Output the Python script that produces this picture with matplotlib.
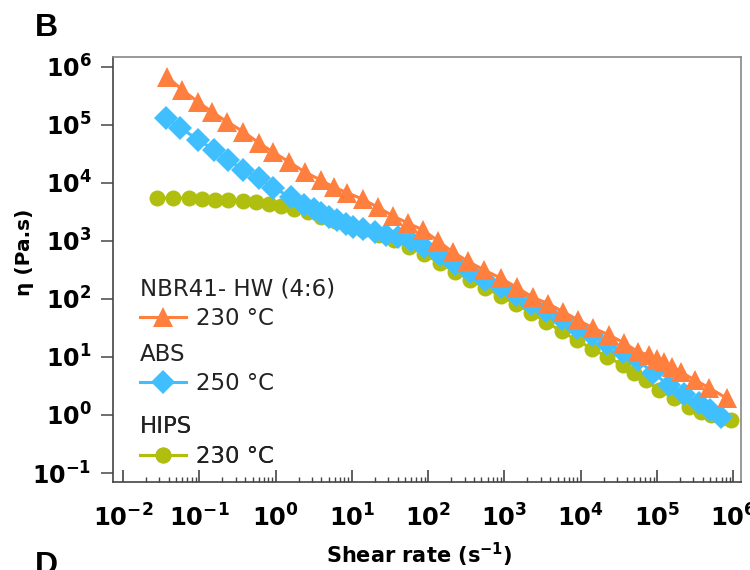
import numpy as np
import matplotlib.pyplot as plt
from matplotlib.ticker import FixedLocator, FuncFormatter, NullLocator

plt.rcParams['font.family'] = 'DejaVu Sans'
plt.rcParams['mathtext.fontset'] = 'dejavusans'

# Viskositaetskurven, Werte als log10
# NBR41-HW (4:6), 230 °C
nbr_lx = [-1.42, -1.22, -1.02, -0.83, -0.63, -0.42, -0.22, -0.03, 0.18, 0.38,
          0.59, 0.76, 0.94, 1.14, 1.34, 1.54, 1.73, 1.93, 2.13, 2.32,
          2.52, 2.73, 2.95, 3.16, 3.37, 3.57, 3.77, 3.96, 4.16, 4.37,
          4.57, 4.75, 4.90, 5.00, 5.09, 5.20, 5.31, 5.50, 5.68, 5.91]
nbr_ly = [5.83, 5.60, 5.40, 5.22, 5.05, 4.88, 4.69, 4.53, 4.36, 4.19,
          4.05, 3.93, 3.83, 3.72, 3.58, 3.43, 3.31, 3.19, 3.00, 2.81,
          2.65, 2.50, 2.36, 2.20, 2.03, 1.92, 1.78, 1.64, 1.50, 1.38,
          1.24, 1.09, 1.03, 0.97, 0.91, 0.83, 0.74, 0.60, 0.47, 0.29]

# ABS, 250 °C
abs_lx = [-1.44, -1.25, -1.01, -0.81, -0.62, -0.42, -0.22, -0.03, 0.20, 0.37,
          0.50, 0.59, 0.70, 0.81, 0.92, 1.02, 1.15, 1.30, 1.45, 1.60,
          1.77, 1.95, 2.15, 2.35, 2.55, 2.75, 2.95, 3.15, 3.35, 3.55,
          3.75, 3.95, 4.15, 4.35, 4.55, 4.75, 4.95, 5.15, 5.35, 5.55,
          5.70, 5.84]
abs_ly = [5.12, 4.95, 4.74, 4.57, 4.40, 4.22, 4.09, 3.91, 3.76, 3.62,
          3.55, 3.48, 3.42, 3.36, 3.30, 3.24, 3.20, 3.15, 3.10, 3.06,
          3.00, 2.90, 2.76, 2.60, 2.46, 2.33, 2.20, 2.06, 1.92, 1.79,
          1.65, 1.50, 1.37, 1.23, 1.09, 0.95, 0.72, 0.52, 0.36, 0.20,
          0.08, -0.03]

# HIPS, 230 °C
hips_lx = [-1.55, -1.35, -1.14, -0.96, -0.79, -0.62, -0.43, -0.26, -0.09, 0.07,
           0.24, 0.42, 0.60, 0.78, 0.95, 1.15, 1.35, 1.55, 1.75, 1.95,
           2.15, 2.35, 2.55, 2.75, 2.95, 3.15, 3.35, 3.55, 3.75, 3.95,
           4.15, 4.35, 4.55, 4.70, 4.85, 5.03, 5.22, 5.42, 5.57, 5.71,
           5.85, 5.97]
hips_ly = [3.74, 3.74, 3.74, 3.72, 3.71, 3.70, 3.68, 3.67, 3.64, 3.60,
           3.55, 3.49, 3.42, 3.35, 3.28, 3.19, 3.10, 3.01, 2.90, 2.77,
           2.62, 2.47, 2.33, 2.19, 2.05, 1.91, 1.76, 1.60, 1.44, 1.29,
           1.14, 1.00, 0.86, 0.72, 0.60, 0.43, 0.29, 0.14, 0.06, 0.00,
           -0.05, -0.09]

c_nbr = '#FF7F3F'
c_abs = '#40BFFF'
c_hips = '#B0BE0F'

fig = plt.figure(figsize=(7.5, 5.7), dpi=100)
ax = fig.add_axes([113/750, 88/570, 628/750, 425/570])

l_hips, = ax.plot(np.power(10.0, hips_lx), np.power(10.0, hips_ly), '-o', color=c_hips,
                  ms=11.5, mew=0, lw=2.2)
l_abs, = ax.plot(np.power(10.0, abs_lx), np.power(10.0, abs_ly), '-D', color=c_abs,
                 ms=12, mew=0, lw=2.2)
l_nbr, = ax.plot(np.power(10.0, nbr_lx), np.power(10.0, nbr_ly), '-^', color=c_nbr,
                 ms=14, mew=0, lw=2.2)

ax.set_xscale('log')
ax.set_yscale('log')
ax.set_xlim(10**-2.13, 10**6.1)
ax.set_ylim(10**-1.155, 10**6.17)

# Achsen / Ticks
ax.xaxis.set_major_locator(FixedLocator([10.0**e for e in range(-2, 7)]))
ax.xaxis.set_minor_locator(FixedLocator([m * 10.0**e for e in range(-2, 6) for m in range(2, 10)]))
ax.yaxis.set_major_locator(FixedLocator([10.0**e for e in range(-1, 7)]))
ax.yaxis.set_minor_locator(NullLocator())
fmt = FuncFormatter(lambda v, p: r'$\mathbf{10^{%d}}$' % round(np.log10(v)))
ax.xaxis.set_major_formatter(fmt)
ax.yaxis.set_major_formatter(fmt)

ax.tick_params(axis='x', which='major', direction='in', length=8.5, width=1.2,
               color='#444444', labelsize=17.5, pad=16)
ax.tick_params(axis='x', which='minor', direction='in', length=3.5, width=1.0,
               color='#444444')
ax.tick_params(axis='y', which='major', direction='out', length=8.5, width=1.2,
               color='#555555', labelsize=17, pad=7)

for s in ['left', 'bottom']:
    ax.spines[s].set_color('#444444')
    ax.spines[s].set_linewidth(1.2)
for s in ['top', 'right']:
    ax.spines[s].set_color('#888888')
    ax.spines[s].set_linewidth(1.2)

ax.set_xlabel(r'Shear rate (s$^{\mathbf{-1}}$)', fontsize=15, fontweight='bold')
ax.xaxis.set_label_coords(0.488, -0.139)
ax.xaxis.label.set_va('top')

fig.text(25/750, 1 - 252/570, 'η (Pa.s)', rotation=90, ha='center', va='center',
         fontsize=14.5, fontweight='bold')

# Panel-Buchstaben
fig.text(35/750, 1 - 13/570, 'B', fontsize=23, fontweight='bold', family='Liberation Sans',
         va='top', ha='left')
fig.text(35/750, 1 - 551/570, 'D', fontsize=23, fontweight='bold', family='Liberation Sans',
         va='top', ha='left')

# Legende: drei Bloecke mit Ueberschrift
leg_items = [(l_nbr, '230 °C', 'NBR41- HW (4:6)', 0.480),
             (l_abs, '250 °C', 'ABS', 0.327),
             (l_hips, '230 °C', 'HIPS', 0.157)]
for h, lab, title, ytop in leg_items:
    leg = ax.legend([h], [lab], title=title, loc='upper left',
                    bbox_to_anchor=(0.043, ytop), bbox_transform=ax.transAxes,
                    frameon=False, borderpad=0, borderaxespad=0,
                    handlelength=2.0, handletextpad=0.45, labelspacing=0.28,
                    fontsize=16.5, title_fontsize=16.5, alignment='left')
    for t in leg.get_texts():
        t.set_color('#222222')
    leg.get_title().set_color('#222222')
    ax.add_artist(leg)

fig.savefig('out.png', dpi=100)
